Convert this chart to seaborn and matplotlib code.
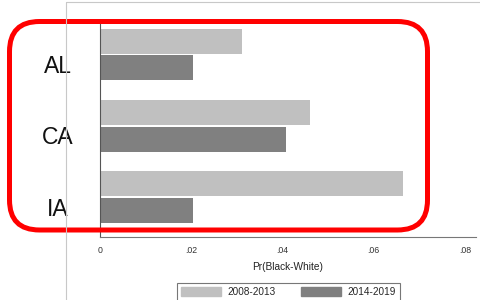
import pandas as pd
import seaborn as sns
import matplotlib.pyplot as plt
import matplotlib.transforms as mtransforms
from matplotlib.patches import FancyBboxPatch
from matplotlib.lines import Line2D

# data
states = ['AL', 'CA', 'IA']
periods = ['2008-2013', '2014-2019']
early = [0.0311, 0.0460, 0.0664]
late = [0.0204, 0.0408, 0.0204]
xticks = [0, 0.02, 0.04, 0.06, 0.08]
xticklabels = ['0', '.02', '.04', '.06', '.08']
colors = ['#c0c0c0', '#808080']

df = pd.DataFrame({
    'state': states * 2,
    'period': [periods[0]] * 3 + [periods[1]] * 3,
    'value': early + late,
})

sns.set_style('white')
plt.rcParams['font.family'] = ['Liberation Sans', 'DejaVu Sans']

W, H = 481, 300
fig = plt.figure(figsize=(W / 100, H / 100), dpi=100)
# axes box in pixels: x 100..476, y 20..237
ax = fig.add_axes([100 / W, 1 - 237 / H, 376 / W, 217 / H])

sns.barplot(data=df, y='state', x='value', hue='period', orient='h',
            palette=colors, width=0.75, gap=0.06, saturation=1,
            linewidth=0, errorbar=None, ax=ax)
ax.get_legend().remove()

ax.set_xlim(0, 0.08 * 376 / 365)
ax.set_ylim(2.561, -0.484)
ax.set_xticks(xticks)
ax.set_xticklabels(xticklabels, fontsize=6.3, color='#333333')
ax.tick_params(axis='x', length=3.6, width=0.7, color='#555555', pad=3)
ax.set_yticks([])
ax.set_ylabel('')
ax.set_xlabel('Pr(Black-White)', fontsize=7.3, labelpad=5, color='#222222')
for s in ['top', 'right']:
    ax.spines[s].set_visible(False)
ax.spines['left'].set_color('#555555')
ax.spines['left'].set_linewidth(0.8)
ax.spines['bottom'].set_color('#777777')
ax.spines['bottom'].set_linewidth(0.8)

# light graph-region border
fig.add_artist(Line2D([66 / W, 66 / W], [0, 1 - 2 / H], transform=fig.transFigure,
                      color='#c8c8c8', lw=0.8))
fig.add_artist(Line2D([66 / W, 1], [1 - 2 / H, 1 - 2 / H], transform=fig.transFigure,
                      color='#c8c8c8', lw=0.8))

# category labels
trans = mtransforms.blended_transform_factory(fig.transFigure, ax.transData)
for i, s in enumerate(states):
    ax.text(58 / W, i + 0.17, s, transform=trans, ha='center', va='center',
            fontsize=16.5, color='#111111',
            bbox=dict(facecolor='white', edgecolor='none', pad=1))

# legend
handles = [plt.Rectangle((0, 0), 1, 1, color=c) for c in colors]
leg = fig.legend(handles, periods, loc='upper left',
                 bbox_to_anchor=(177 / W, 1 - 283 / H), ncol=2, fontsize=7.2,
                 frameon=True, fancybox=False, borderaxespad=0,
                 handlelength=4.0, handleheight=1.0, handletextpad=0.6,
                 columnspacing=2.6, borderpad=0.4)
leg.get_frame().set_edgecolor('#555555')
leg.get_frame().set_linewidth(0.8)

# red rounded highlight box (pixel coords -> inches)
x0, x1, y0, y1 = 9.5, 427.5, 21.5, 230
box = FancyBboxPatch((x0 / 100, (H - y1) / 100), (x1 - x0) / 100, (y1 - y0) / 100,
                     boxstyle='round,pad=0,rounding_size=0.30',
                     transform=fig.dpi_scale_trans, facecolor='none',
                     edgecolor='#ff0000', linewidth=3.6)
fig.add_artist(box)

fig.savefig('out.png', dpi=100)
